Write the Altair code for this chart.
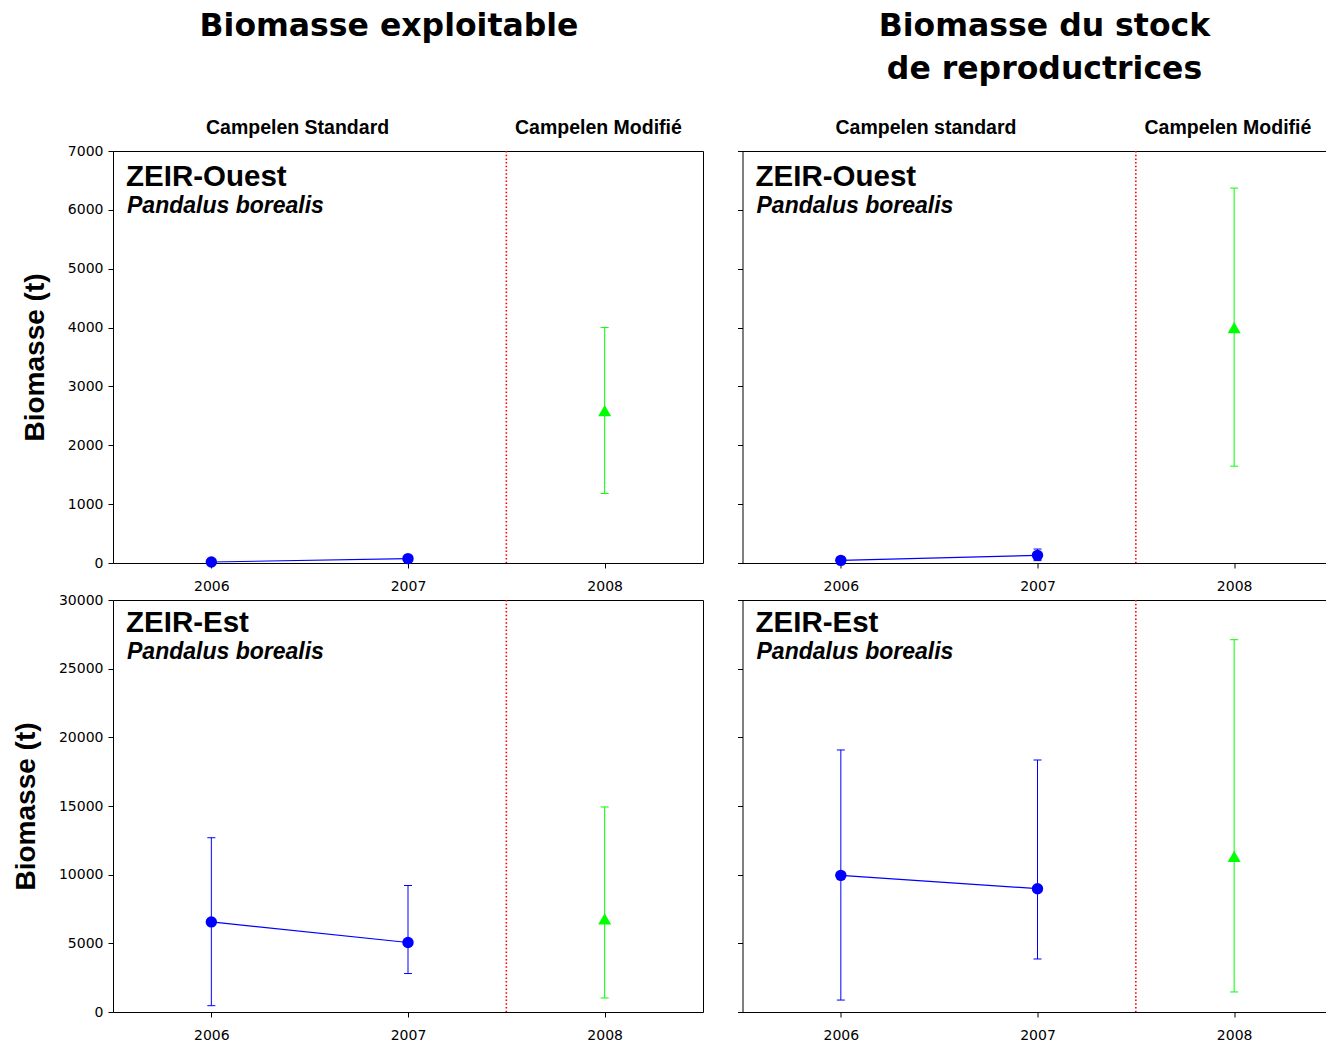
import altair as alt
import pandas as pd

# ---------------- data ----------------
YEARS_STD = [2006, 2007]
YEAR_MOD = [2008]
X_TICKS = [2006, 2007, 2008]
Y_TICKS_OUEST = [0, 1000, 2000, 3000, 4000, 5000, 6000, 7000]
Y_TICKS_EST = [0, 5000, 10000, 15000, 20000, 25000, 30000]

# Biomasse exploitable - ZEIR-Ouest
EO_STD = [17, 74]
EO_STD_LO = [5, 50]
EO_STD_HI = [30, 98]
EO_MOD = [2590]
EO_MOD_LO = [1180]
EO_MOD_HI = [4000]

# Biomasse du stock de reproductrices - ZEIR-Ouest
RO_STD = [45, 130]
RO_STD_LO = [25, 40]
RO_STD_HI = [65, 237]
RO_MOD = [4000]
RO_MOD_LO = [1645]
RO_MOD_HI = [6370]

# Biomasse exploitable - ZEIR-Est
EE_STD = [6560, 5060]
EE_STD_LO = [460, 2800]
EE_STD_HI = [12690, 9210]
EE_MOD = [6780]
EE_MOD_LO = [1020]
EE_MOD_HI = [14930]

# Biomasse du stock de reproductrices - ZEIR-Est
RE_STD = [9950, 8980]
RE_STD_LO = [870, 3860]
RE_STD_HI = [19080, 18350]
RE_MOD = [11330]
RE_MOD_LO = [1460]
RE_MOD_HI = [27110]

BLUE = "#0000ff"
GREEN = "#00ff00"
RED = "#ff0000"
SANS = "Liberation Sans"
WIDE = "DejaVu Sans"


def txt(text, x, y, size, font=SANS, style="normal", align="left"):
    return alt.Chart(pd.DataFrame({"t": [text]})).mark_text(
        font=font, fontSize=size, fontWeight="bold", fontStyle=style,
        align=align, baseline="middle", color="black"
    ).encode(text="t:N", x=alt.value(x), y=alt.value(y))


def panel(std, lo, hi, mod, mlo, mhi, yticks, width, xmax, left, zone, zdy, extra):
    xs = alt.Scale(domain=[2005.5, xmax], nice=False, zero=False)
    ys = alt.Scale(domain=[yticks[0], yticks[-1]], nice=False, zero=False)
    std_df = pd.DataFrame({"year": YEARS_STD, "v": std, "lo": lo, "hi": hi})
    mod_df = pd.DataFrame({"year": YEAR_MOD, "v": mod, "lo": mlo, "hi": mhi})
    std_caps = pd.DataFrame({"year": YEARS_STD * 2, "v": lo + hi})
    mod_caps = pd.DataFrame({"year": YEAR_MOD * 2, "v": mlo + mhi})

    xaxis = alt.Axis(values=X_TICKS, format="d", title=None, orient="bottom")
    yaxis = alt.Axis(values=yticks, format="d", orient="left", labels=left,
                     title="Biomasse (t)" if left else None)

    def X(ax=None):
        return alt.X("year:Q", scale=xs, axis=ax)

    def Y(f="v", ax=None):
        return alt.Y(f"{f}:Q", scale=ys, axis=ax)

    layers = [
        alt.Chart(pd.DataFrame({"x": [2007.5]})).mark_rule(
            color=RED, strokeWidth=1.6, strokeDash=[1.5, 2.2]
        ).encode(x=alt.X("x:Q", scale=xs, axis=None)),
        alt.Chart(std_df).mark_rule(color=BLUE, strokeWidth=1).encode(
            x=X(), y=Y("lo"), y2="hi:Q"),
        alt.Chart(std_caps).mark_tick(color=BLUE, orient="horizontal", size=8,
                                      thickness=1, opacity=1).encode(x=X(), y=Y()),
        alt.Chart(std_df).mark_line(color=BLUE, strokeWidth=1.2).encode(
            x=X(xaxis), y=Y("v", yaxis)),
        alt.Chart(std_df).mark_circle(color=BLUE, size=130, opacity=1).encode(
            x=X(), y=Y()),
        alt.Chart(mod_df).mark_rule(color=GREEN, strokeWidth=1).encode(
            x=X(), y=Y("lo"), y2="hi:Q"),
        alt.Chart(mod_caps).mark_tick(color=GREEN, orient="horizontal", size=8,
                                      thickness=1, opacity=1).encode(x=X(), y=Y()),
        alt.Chart(mod_df).mark_point(shape="triangle-up", filled=True, size=170,
                                     color=GREEN, opacity=1).encode(x=X(), y=Y()),
        # top border of the frame
        alt.Chart(std_df).mark_point(opacity=0).encode(
            x=alt.X("year:Q", scale=xs,
                    axis=alt.Axis(orient="top", labels=False, ticks=False, title=None))),
    ]
    if left:
        layers.append(
            alt.Chart(std_df).mark_point(opacity=0).encode(
                y=alt.Y("v:Q", scale=ys,
                        axis=alt.Axis(orient="right", labels=False, ticks=False, title=None)))
        )
    layers.append(txt(zone, 13, zdy, 29.5))
    layers.append(txt("Pandalus borealis", 14, zdy + 29, 23, style="italic"))
    layers.extend(extra)
    return alt.layer(*layers).resolve_axis(x="independent", y="independent").properties(
        width=width, height=412)


WL = 590
WR = 583
XMAX_R = 2005.5 + WR * 3 / WL

tl = panel(EO_STD, EO_STD_LO, EO_STD_HI, EO_MOD, EO_MOD_LO, EO_MOD_HI,
           Y_TICKS_OUEST, WL, 2008.5, True, "ZEIR-Ouest", 26,
           [txt("Biomasse exploitable", 276, -124, 31.5, font=WIDE, align="center"),
            txt("Campelen Standard", 93, -23, 19.5),
            txt("Campelen Modifié", 402, -23, 19.5)])
tr = panel(RO_STD, RO_STD_LO, RO_STD_HI, RO_MOD, RO_MOD_LO, RO_MOD_HI,
           Y_TICKS_OUEST, WR, XMAX_R, False, "ZEIR-Ouest", 26,
           [txt("Biomasse du stock", 302, -124, 31.5, font=WIDE, align="center"),
            txt("de reproductrices", 302, -81, 31.5, font=WIDE, align="center"),
            txt("Campelen standard", 93, -23, 19.5),
            txt("Campelen Modifié", 402, -23, 19.5)])
bl = panel(EE_STD, EE_STD_LO, EE_STD_HI, EE_MOD, EE_MOD_LO, EE_MOD_HI,
           Y_TICKS_EST, WL, 2008.5, True, "ZEIR-Est", 23, [])
br = panel(RE_STD, RE_STD_LO, RE_STD_HI, RE_MOD, RE_MOD_LO, RE_MOD_HI,
           Y_TICKS_EST, WR, XMAX_R, False, "ZEIR-Est", 23, [])

chart = alt.concat(tl, tr, bl, br, columns=2, bounds="flush",
                   spacing={"row": 37, "column": 39.5}).properties(
    padding={"left": 11, "top": 10, "right": 0, "bottom": 0},
    background="white",
).configure_view(stroke="transparent").configure_axis(
    grid=False,
    domainColor="black",
    domainWidth=1,
    tickColor="black",
    tickWidth=1,
    tickSize=5,
    labelColor="black",
    labelFont=WIDE,
    labelFontSize=14,
    titleFont=SANS,
    titleFontSize=28,
    titleFontWeight="bold",
    titleColor="black",
).configure_axisBottom(labelPadding=11).configure_axisLeft(labelPadding=5, titlePadding=18)

chart.save("out.html", embed_options={"renderer": "svg", "actions": False})
